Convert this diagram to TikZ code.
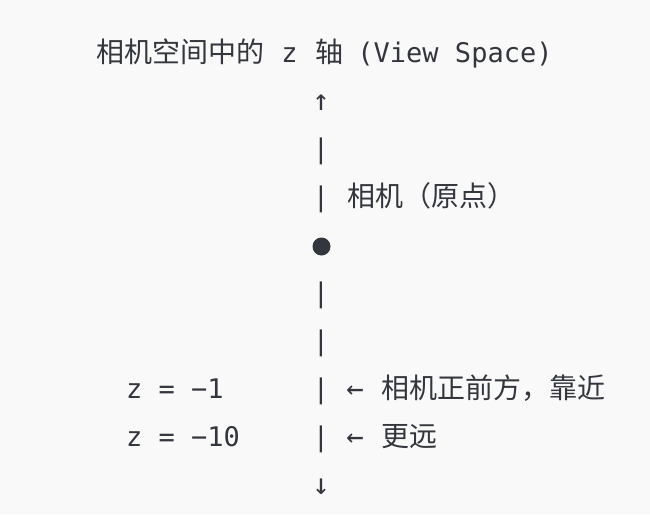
\documentclass[tikz,border=0pt]{standalone}
\usepackage{fontspec}
\newfontfamily\monofont{DejaVu Sans Mono}
\newfontfamily\cjkfont{Noto Sans CJK SC}
\definecolor{ink}{HTML}{33363C}
\definecolor{paper}{HTML}{F9F9F9}
\tikzset{
  mono/.style={anchor=base, inner sep=0pt, text=ink, font=\monofont\fontsize{27}{27}\selectfont},
  monoleft/.style={mono, anchor=base west},
  cjk/.style={anchor=base west, inner sep=0pt, text=ink, font=\cjkfont\fontsize{28}{28}\selectfont},
  arrowsym/.style={mono, font=\monofont\fontsize{29}{29}\selectfont},
}
\begin{document}
\begin{tikzpicture}[x=1pt, y=-1pt]
    \fill[paper] (0,0) rectangle (650,514);
    \useasboundingbox (0,0) rectangle (650,514);

    % title line
    \draw
    (96, 62.7) node[cjk](title){相机空间中的}
    (289.5, 62.7) node[mono](zaxis){z}
    (315, 62.7) node[cjk](axis){轴}
    (455, 62.7) node[mono](viewspace){(View Space)};

    % the z axis
    \draw
    (321, 110.7) node[arrowsym](up){↑}
    (321, 158.7) node[mono](barA){|}
    (321, 206.7) node[mono](barB){|}
    (321.5, 246.5) node[circle, fill=ink, inner sep=0pt, minimum size=18pt](origin){}
    (321, 302.7) node[mono](barC){|}
    (321, 350.7) node[mono](barD){|}
    (321, 398.7) node[mono](barE){|}
    (321, 446.7) node[mono](barF){|}
    (321, 494.7) node[arrowsym](down){↓};

    % labels
    \draw
    (347, 206.7) node[cjk](camera){相机（原点）}
    (126, 398.7) node[monoleft](zone){z = −1}
    (126, 446.7) node[monoleft](zten){z = −10}
    (355, 398.7) node[arrowsym](leftA){←}
    (381, 398.7) node[cjk](near){相机正前方，靠近}
    (355, 446.7) node[arrowsym](leftB){←}
    (381, 446.7) node[cjk](far){更远};

\end{tikzpicture}
\end{document}
